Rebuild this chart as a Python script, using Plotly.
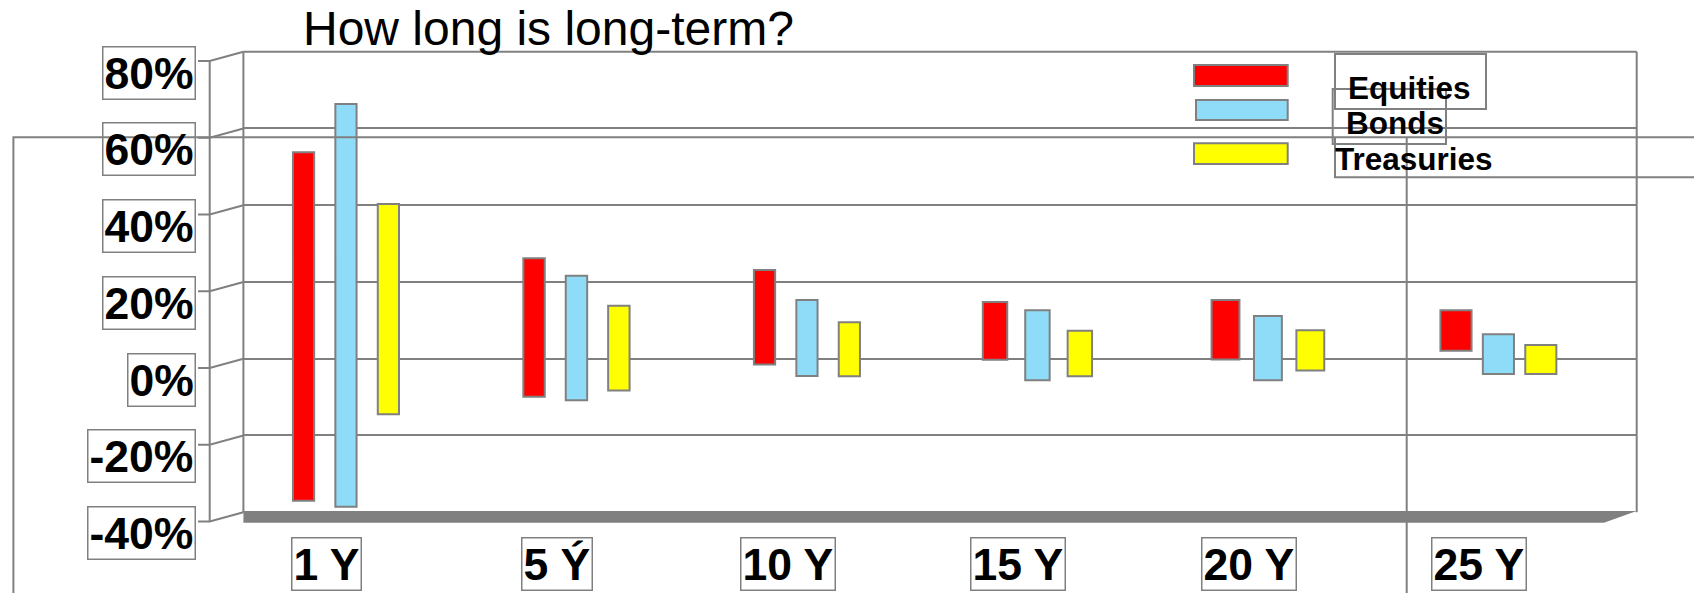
import plotly.graph_objects as go

# ---- data -------------------------------------------------------------
categories = ["1 Y", "5 Ý", "10 Y", "15 Y", "20 Y", "25 Y"]
series_names = ["Equities", "Bonds", "Treasuries"]

# range of annual returns (%) over each holding period
equities_high = [53.8, 26.2, 23.1, 14.8, 15.3, 12.6]
equities_low = [-37.0, -9.9, -1.5, -0.3, -0.2, 2.1]
bonds_high = [66.4, 21.6, 15.3, 12.6, 11.1, 6.4]
bonds_low = [-38.6, -10.8, -4.5, -5.6, -5.6, -4.0]
treasuries_high = [40.3, 13.8, 9.5, 7.3, 7.4, 3.6]
treasuries_low = [-14.5, -8.3, -4.6, -4.6, -3.1, -4.0]

y_ticks = [-40, -20, 0, 20, 40, 60, 80]
y_tick_labels = ["-40%", "-20%", "0%", "20%", "40%", "60%", "80%"]
title_text = "How long is long-term?"

# ---- styling / geometry ----------------------------------------------
W, H = 1694, 593
FONT = "Liberation Sans, Arial, sans-serif"
EDGE = "#808080"
COLORS = ["#FF0000", "#8EDCF8", "#FFFF00"]

WALL_L, WALL_R = 243.4, 1636.7      # back wall, pixels
WALL_T, WALL_B = 51.7, 512.2
Y_MIN, Y_MAX = -40, 80
X_RANGE = [-0.445, 5.600]
# bars widen slightly towards the right (perspective of the 3-D box)
BAR_W = [0.092, 0.093, 0.092, 0.106, 0.121, 0.135]
SHIFTS = [-0.184, 0.0, 0.184]


def px(x):
    return x / W


def py(y):
    return 1 - y / H


def ypix(v):
    return WALL_B - (v - Y_MIN) * (WALL_B - WALL_T) / (Y_MAX - Y_MIN)


fig = go.Figure()

highs = [equities_high, bonds_high, treasuries_high]
lows = [equities_low, bonds_low, treasuries_low]
for name, hi, lo, color, shift in zip(series_names, highs, lows, COLORS, SHIFTS):
    fig.add_trace(go.Bar(
        name=name,
        x=list(range(len(categories))),
        y=[h - l for h, l in zip(hi, lo)],
        base=lo,
        width=BAR_W,
        offset=[shift - w / 2 for w in BAR_W],
        marker=dict(color=color, line=dict(color=EDGE, width=2)),
        showlegend=False,
    ))

shapes = []


def line(x0, y0, x1, y1, w=2):
    shapes.append(dict(type="line", xref="paper", yref="paper",
                       x0=px(x0), y0=py(y0), x1=px(x1), y1=py(y1),
                       line=dict(color=EDGE, width=w)))


def rect(x0, y0, x1, y1, fill=None, w=2):
    shapes.append(dict(type="rect", xref="paper", yref="paper",
                       x0=px(x0), y0=py(y0), x1=px(x1), y1=py(y1),
                       fillcolor=fill if fill else "rgba(0,0,0,0)",
                       line=dict(color=EDGE, width=w)))


def path(points, fill=None, w=2):
    d = "M " + " L ".join(f"{px(x)},{py(y)}" for x, y in points)
    if fill:
        d += " Z"
    shapes.append(dict(type="path", xref="paper", yref="paper", path=d,
                       fillcolor=fill if fill else "rgba(0,0,0,0)",
                       line=dict(color=EDGE, width=w if not fill else 0)))


# back wall outline
line(WALL_L, WALL_T, WALL_R, WALL_T)
line(WALL_L, WALL_T, WALL_L, WALL_B)
line(WALL_R, WALL_T, WALL_R, WALL_B)

# floor slab
path([(WALL_L, 511), (WALL_R, 511), (1604, 522.7), (WALL_L, 522.7)], fill=EDGE)

# front value axis with slanted tick connectors
AXIS_X = 209.7
line(AXIS_X, ypix(Y_MAX) + 9.3, AXIS_X, ypix(Y_MIN) + 9.3)
for v in y_ticks:
    g = ypix(v)
    path([(198, g + 9.3), (AXIS_X, g + 9.3), (WALL_L, g)])

# legend swatches
sw_y = [(65, 86), (100, 120), (143.3, 164)]
sw_x = [(1194, 1287.7), (1196, 1287.7), (1194, 1287.7)]
for (y0, y1), (x0, x1), c in zip(sw_y, sw_x, COLORS):
    rect(x0, y0, x1, y1, fill=c)

# frames around legend entries
rect(1335, 54, 1486, 109)
rect(1332.7, 89, 1446, 144)
path([(1335, 137.3), (1335, 177.3), (W, 177.3)])

# outer frame lines
path([(13.4, H), (13.4, 137.3), (W, 137.3)])
line(1406.7, 137.3, 1406.7, H)

annotations = []

# title
annotations.append(dict(
    text=title_text, xref="paper", yref="paper",
    x=px(303), y=py(2.0), xanchor="left", yanchor="top",
    showarrow=False, borderpad=0, borderwidth=0,
    font=dict(family=FONT, size=48, color="black")))

# boxed value-axis labels
for v, lab in zip(y_ticks, y_tick_labels):
    annotations.append(dict(
        text=f"<b>{lab}</b>", xref="paper", yref="paper",
        x=px(196), y=py(ypix(v) - 6), xanchor="right", yanchor="top",
        showarrow=False, borderpad=1, borderwidth=1.5, bordercolor=EDGE,
        font=dict(family=FONT, size=44.5, color="black")))

# boxed category labels
for i, cat in enumerate(categories):
    annotations.append(dict(
        text=f"<b>{cat}</b>", xref="x", yref="paper",
        x=i, xshift=-19, y=py(537), xanchor="center", yanchor="top",
        showarrow=False, borderpad=1, borderwidth=1.5, bordercolor=EDGE,
        font=dict(family=FONT, size=44.5, color="black")))

# legend texts
LEG_FS = 31.5
for name, lx, base in zip(series_names, [1349.3, 1347.3, 1336], [98.3, 133.3, 170]):
    annotations.append(dict(
        text=f"<b>{name}</b>", xref="paper", yref="paper",
        x=px(lx - 1), y=py(base - 0.905 * LEG_FS), xanchor="left", yanchor="top",
        showarrow=False, borderpad=0, borderwidth=0,
        font=dict(family=FONT, size=LEG_FS, color="black")))

fig.update_layout(
    width=W, height=H,
    margin=dict(l=0, r=0, t=0, b=0, pad=0),
    paper_bgcolor="white", plot_bgcolor="white",
    barmode="overlay",
    hovermode=False,
    showlegend=False,
    shapes=shapes,
    annotations=annotations,
    xaxis=dict(domain=[px(WALL_L), px(WALL_R)], range=X_RANGE,
               showgrid=False, zeroline=False, showticklabels=False,
               showline=False, ticks=""),
    yaxis=dict(domain=[py(WALL_B), py(WALL_T)], range=[Y_MIN, Y_MAX],
               tickvals=y_ticks, showgrid=True, gridcolor=EDGE, gridwidth=2,
               zeroline=False, showticklabels=False, showline=False, ticks=""),
)

fig.write_html("out.html")
